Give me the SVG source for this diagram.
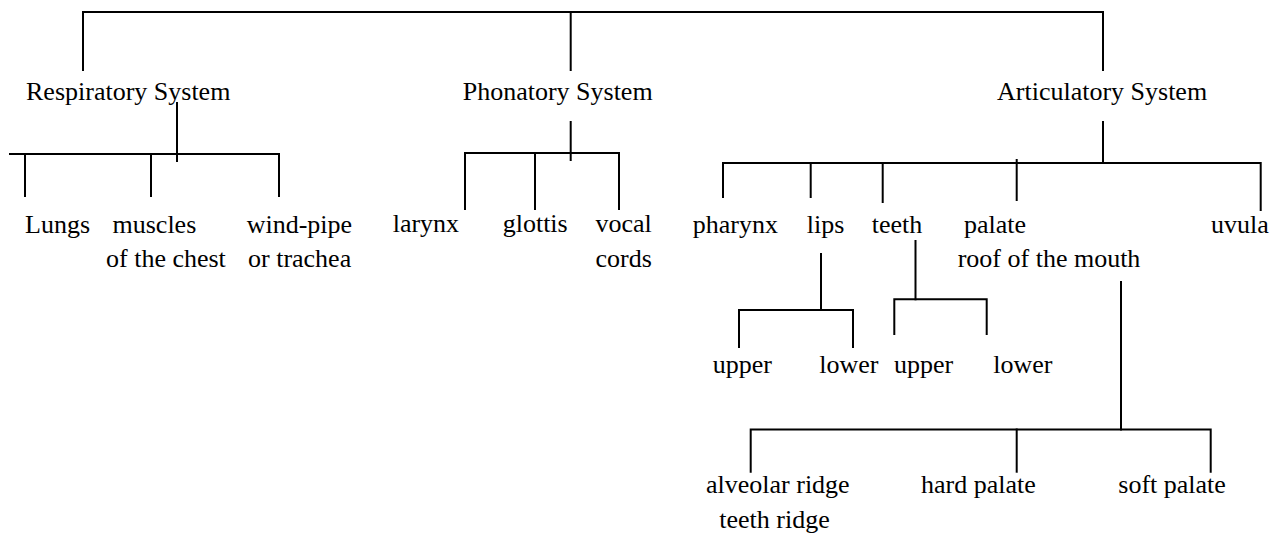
<svg xmlns="http://www.w3.org/2000/svg" width="1283" height="533" viewBox="0 0 1283 533">
<style>
text{font-family:"Liberation Serif","Times New Roman",serif;font-size:26px;fill:#000}
.c line,.c path{stroke:#000;stroke-width:2;fill:none;stroke-linecap:square;stroke-linejoin:miter}
</style>
<rect width="1283" height="533" fill="#fff"/>
<g id="connectors" class="c">
<path d="M83,70 V12 H1103 V70"/>
<line x1="570.7" y1="12" x2="570.7" y2="70"/>
<line x1="177" y1="103" x2="177" y2="161"/>
<path d="M10,154 H279 V196"/>
<line x1="25" y1="154" x2="25" y2="196"/>
<line x1="151" y1="154" x2="151" y2="196"/>
<line x1="570.7" y1="122" x2="570.7" y2="160"/>
<path d="M465,209 V153 H619 V209"/>
<line x1="535" y1="153" x2="535" y2="209"/>
<line x1="1103" y1="122" x2="1103" y2="163"/>
<path d="M723,197 V163 H1260.7 V210"/>
<line x1="810.7" y1="163" x2="810.7" y2="197"/>
<line x1="882.7" y1="163" x2="882.7" y2="202"/>
<line x1="1016.7" y1="160" x2="1016.7" y2="200"/>
<line x1="821" y1="254" x2="821" y2="310"/>
<path d="M739,347 V310 H853 V347"/>
<line x1="915.5" y1="241" x2="915.5" y2="299.3"/>
<path d="M894.3,334 V299.3 H986.7 V334"/>
<line x1="1121" y1="282" x2="1121" y2="429.5"/>
<path d="M750.7,471.7 V429.5 H1210.7 V471.7"/>
<line x1="1016.7" y1="429.5" x2="1016.7" y2="471.7"/>
</g>
<g id="respiratory"><text x="26" y="100">Respiratory System</text></g>
<g id="phonatory"><text x="462.7" y="100">Phonatory System</text></g>
<g id="articulatory"><text x="997" y="100">Articulatory System</text></g>
<g id="lungs"><text x="25" y="233">Lungs</text></g>
<g id="muscles"><text x="112.5" y="233">muscles</text><text x="106" y="267">of the chest</text></g>
<g id="windpipe"><text x="246.7" y="233">wind-pipe</text><text x="248" y="267">or trachea</text></g>
<g id="larynx"><text x="392.7" y="232">larynx</text></g>
<g id="glottis"><text x="502.7" y="232">glottis</text></g>
<g id="vocal-cords"><text x="595.5" y="232">vocal</text><text x="595.5" y="267">cords</text></g>
<g id="pharynx"><text x="692.7" y="233">pharynx</text></g>
<g id="lips"><text x="806.7" y="233">lips</text></g>
<g id="teeth"><text x="871.7" y="233">teeth</text></g>
<g id="palate"><text x="964" y="233">palate</text><text x="957.7" y="267">roof of the mouth</text></g>
<g id="uvula"><text x="1211" y="233">uvula</text></g>
<g id="lips-upper"><text x="712.7" y="373">upper</text></g>
<g id="lips-lower"><text x="819.3" y="373">lower</text></g>
<g id="teeth-upper"><text x="894" y="373">upper</text></g>
<g id="teeth-lower"><text x="993.3" y="373">lower</text></g>
<g id="alveolar-ridge"><text x="706" y="493">alveolar ridge</text><text x="719.3" y="528">teeth ridge</text></g>
<g id="hard-palate"><text x="921" y="493">hard palate</text></g>
<g id="soft-palate"><text x="1118.3" y="493">soft palate</text></g>
</svg>
